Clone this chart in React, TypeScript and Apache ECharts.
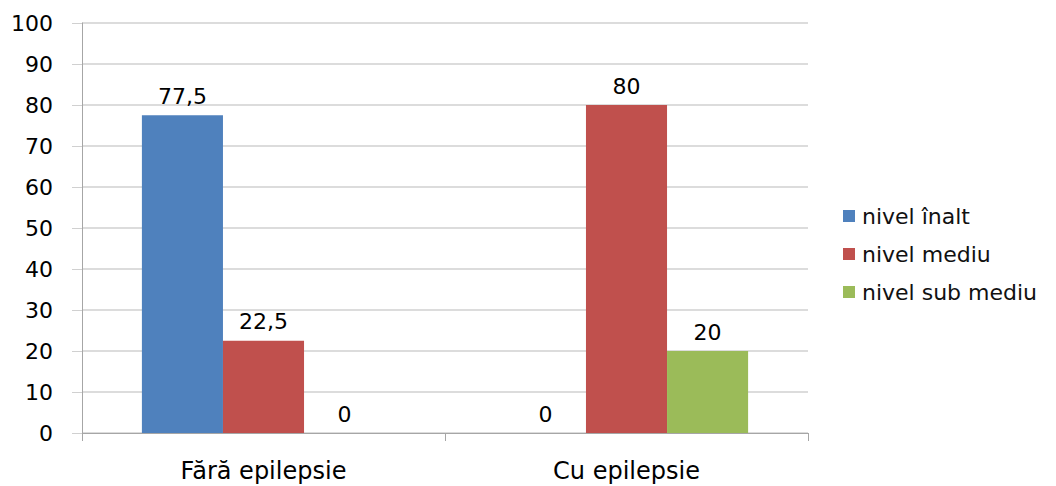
import React, { useEffect, useRef } from "react";
import * as echarts from "echarts";

const categories = ["Fără epilepsie", "Cu epilepsie"];
const seriesNames = ["nivel înalt", "nivel mediu", "nivel sub mediu"];
const nivelInalt = [77.5, 0];
const nivelMediu = [22.5, 80];
const nivelSubMediu = [0, 20];
const colors = ["#4F81BD", "#C0504D", "#9BBB59"];

const fmt = (v: number) => String(v).replace(".", ",");

export default function App() {
  const ref = useRef<HTMLDivElement>(null);

  useEffect(() => {
    if (!ref.current) return;
    const chart = echarts.init(ref.current, null, { renderer: "svg" });
    const values = [nivelInalt, nivelMediu, nivelSubMediu];
    chart.setOption({
      animation: false,
      backgroundColor: "#ffffff",
      grid: { left: 82, right: 248, top: 23, bottom: 53, containLabel: false },
      legend: {
        orient: "vertical",
        left: 838,
        top: 200,
        itemWidth: 12,
        itemHeight: 12,
        itemGap: 16,
        icon: "rect",
        textStyle: { fontFamily: "DejaVu Sans", fontSize: 22, color: "#111", padding: [0, 0, 0, 2] },
        data: seriesNames,
      },
      xAxis: {
        type: "category",
        data: categories,
        axisLine: { lineStyle: { color: "#A6A6A6" } },
        axisTick: { show: true, length: 8, lineStyle: { color: "#A6A6A6" } },
        axisLabel: {
          margin: 26,
          color: "#000",
          fontSize: 24,
          fontFamily: "DejaVu Sans",
        },
      },
      yAxis: {
        type: "value",
        min: 0,
        max: 100,
        interval: 10,
        axisLine: { show: true, lineStyle: { color: "#A6A6A6" } },
        axisTick: { show: true, length: 10, lineStyle: { color: "#D0D0D0" } },
        splitLine: { lineStyle: { color: "#D0D0D0", width: 1.5 } },
        axisLabel: { margin: 29, color: "#000", fontSize: 22, fontFamily: "DejaVu Sans" },
      },
      series: seriesNames.map((name, i) => ({
        name,
        type: "bar",
        data: values[i],
        barGap: "0%",
        barCategoryGap: "33%",
        itemStyle: { color: colors[i] },
        label: {
          show: true,
          position: "top",
          distance: 8,
          color: "#000",
          fontSize: 22,
          fontFamily: "DejaVu Sans",
          formatter: (p: any) => fmt(p.value),
        },
      })),
    });
    return () => chart.dispose();
  }, []);

  return <div ref={ref} style={{ width: 1056, height: 486, position: "absolute", left: 0, top: 0 }} />;
}
